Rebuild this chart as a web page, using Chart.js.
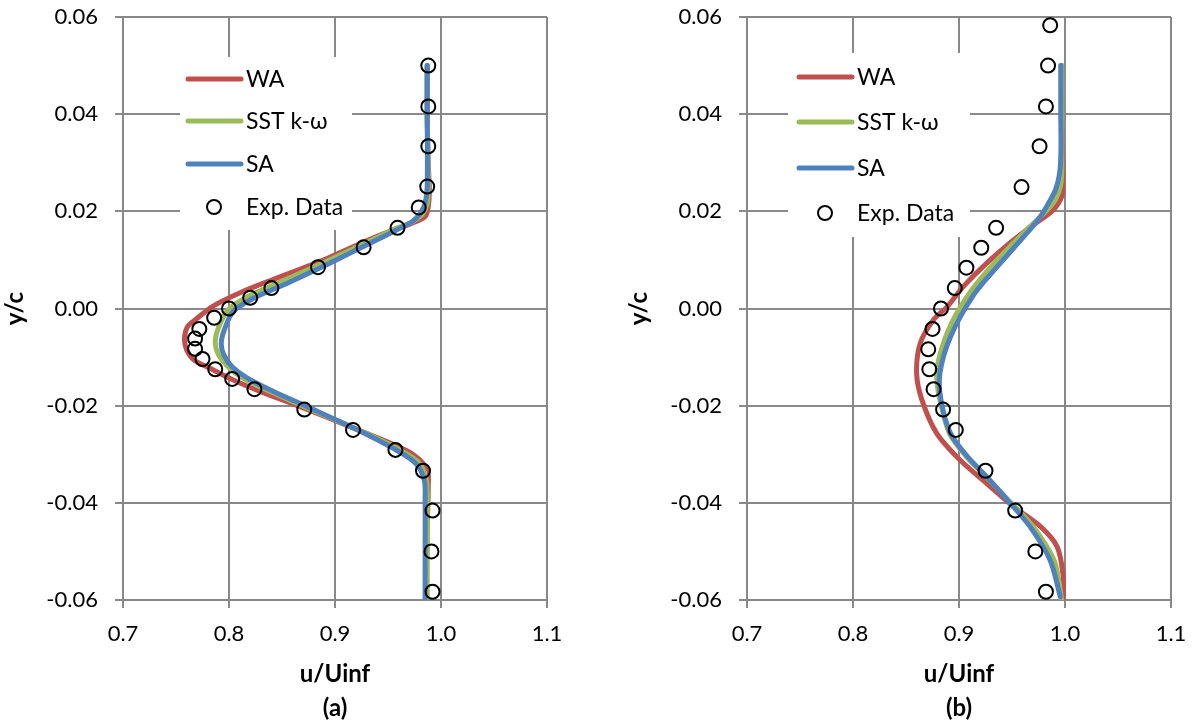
<!DOCTYPE html>
<html>
<head>
<meta charset="utf-8">
<script src="https://cdn.jsdelivr.net/npm/chart.js@4/dist/chart.umd.min.js"></script>
<style>
  body { margin: 0; background: #fff; }
  canvas { position: absolute; top: 0; }
  #chartA { left: 0; }
  #chartB { left: 624px; }
</style>
</head>
<body>
<canvas id="chartA" width="571" height="726"></canvas>
<canvas id="chartB" width="571" height="726"></canvas>
<script>
// ---- panel (a) ----
const uWA_a  = [0.987, 0.987, 0.988, 0.989, 0.988, 0.985, 0.971, 0.955, 0.927, 0.886, 0.842, 0.811, 0.785, 0.770, 0.761, 0.758, 0.760, 0.767, 0.782, 0.804, 0.830, 0.867, 0.914, 0.952, 0.974, 0.987, 0.988, 0.987, 0.986];
const yWA_a  = [0.050, 0.040, 0.030, 0.024, 0.021, 0.0189, 0.0174, 0.0162, 0.0137, 0.0097, 0.0060, 0.0033, 0.0005, -0.0020, -0.0037, -0.0061, -0.0085, -0.0106, -0.0123, -0.0147, -0.0171, -0.0202, -0.0243, -0.0277, -0.0301, -0.0332, -0.0367, -0.045, -0.060];
const uSST_a = [0.987, 0.987, 0.988, 0.987, 0.982, 0.972, 0.958, 0.926, 0.887, 0.849, 0.817, 0.799, 0.790, 0.787, 0.790, 0.799, 0.813, 0.839, 0.871, 0.917, 0.956, 0.978, 0.986, 0.987, 0.987, 0.987];
const ySST_a = [0.050, 0.040, 0.025, 0.0215, 0.0193, 0.0177, 0.0165, 0.0132, 0.0092, 0.0055, 0.0024, -0.0003, -0.0040, -0.0070, -0.0095, -0.0120, -0.0143, -0.0171, -0.0202, -0.0245, -0.0285, -0.0315, -0.0350, -0.040, -0.050, -0.060];
const uSA_a  = [0.987, 0.987, 0.987, 0.985, 0.9805, 0.973, 0.962, 0.930, 0.892, 0.855, 0.823, 0.804, 0.7956, 0.7927, 0.795, 0.803, 0.817, 0.842, 0.8736, 0.9176, 0.955, 0.9758, 0.9842, 0.985, 0.985, 0.985];
const ySA_a  = [0.050, 0.040, 0.0251, 0.0217, 0.0196, 0.0179, 0.0166, 0.0131, 0.0090, 0.0052, 0.0021, -0.0006, -0.0044, -0.0071, -0.0095, -0.0120, -0.0143, -0.0171, -0.0202, -0.0246, -0.0288, -0.0318, -0.0353, -0.0394, -0.050, -0.060];
const uExp_a = [0.988, 0.988, 0.988, 0.987, 0.979, 0.959, 0.927, 0.884, 0.840, 0.820, 0.800, 0.786, 0.772, 0.768, 0.768, 0.775, 0.787, 0.803, 0.824, 0.871, 0.917, 0.957, 0.983, 0.992, 0.991, 0.992];
const yExp_a = [0.050, 0.0416, 0.0334, 0.0251, 0.0208, 0.0166, 0.0126, 0.0085, 0.0042, 0.0022, 0.000, -0.0019, -0.0042, -0.0062, -0.0083, -0.0104, -0.0125, -0.0145, -0.0166, -0.0208, -0.025, -0.0291, -0.0334, -0.0416, -0.050, -0.0583];

// ---- panel (b) ----
const uWA_b  = [0.997, 0.997, 0.998, 0.998, 0.997, 0.989, 0.970, 0.9515, 0.926, 0.904, 0.889, 0.876, 0.8635, 0.860, 0.865, 0.879, 0.901, 0.926, 0.9515, 0.977, 0.9925, 0.998, 0.9985];
const yWA_b  = [0.050, 0.040, 0.030, 0.026, 0.0231, 0.0203, 0.0172, 0.0141, 0.0093, 0.0045, 0.0004, -0.0023, -0.0071, -0.0133, -0.0188, -0.0257, -0.0312, -0.036, -0.0408, -0.0449, -0.049, -0.0545, -0.060];
const uSST_b = [0.997, 0.997, 0.996, 0.991, 0.982, 0.962, 0.933, 0.911, 0.893, 0.882, 0.879, 0.882, 0.891, 0.907, 0.926, 0.949, 0.970, 0.990, 0.997];
const ySST_b = [0.050, 0.030, 0.0255, 0.0225, 0.020, 0.0158, 0.0093, 0.0035, -0.003, -0.0095, -0.0140, -0.0188, -0.0257, -0.0305, -0.0347, -0.040, -0.0449, -0.052, -0.060];
const uSA_b  = [0.996, 0.996, 0.9962, 0.995, 0.991, 0.9845, 0.9767, 0.964, 0.936, 0.9138, 0.892, 0.882, 0.883, 0.892, 0.908, 0.926, 0.948, 0.967, 0.986, 0.9955];
const ySA_b  = [0.050, 0.040, 0.0327, 0.0279, 0.0244, 0.0217, 0.0189, 0.0155, 0.0086, 0.0028, -0.0058, -0.0133, -0.0188, -0.0257, -0.0305, -0.0346, -0.040, -0.0449, -0.0518, -0.0593];
const uExp_b = [0.986, 0.984, 0.982, 0.976, 0.959, 0.935, 0.921, 0.907, 0.896, 0.883, 0.875, 0.871, 0.872, 0.876, 0.885, 0.897, 0.925, 0.953, 0.972, 0.982];
const yExp_b = [0.0583, 0.050, 0.0416, 0.0334, 0.025, 0.0166, 0.0125, 0.0084, 0.0042, 0.000, -0.0042, -0.0084, -0.0125, -0.0166, -0.0208, -0.025, -0.0334, -0.0416, -0.050, -0.0583];

const xTickMin = 0.7, xTickMax = 1.1, xTickStep = 0.1;
const yTickMin = -0.06, yTickMax = 0.06, yTickStep = 0.02;

Chart.defaults.font.family = 'Lato';
Chart.defaults.color = '#000';

const gridColor = '#898989';

function pts(u, y) {
    return u.map((v, i) => ({ x: v, y: y[i] }));
}

function lineSet(label, color, u, y, order) {
    return {
        label: label,
        data: pts(u, y),
        showLine: true,
        borderColor: color,
        backgroundColor: color,
        borderWidth: 5,
        pointRadius: 0,
        tension: 0.3,
        borderCapStyle: 'round',
        borderJoinStyle: 'round',
        order: order
    };
}

// legend drawn inside the plot, over the grid
const insideLegend = {
    id: 'insideLegend',
    beforeDatasetsDraw(chart, args, opts) {
        const ctx = chart.ctx;
        ctx.save();
        ctx.fillStyle = '#fff';
        ctx.fillRect(opts.box[0], opts.box[1], opts.box[2] - opts.box[0], opts.box[3] - opts.box[1]);
        ctx.font = '23px Lato';
        ctx.textBaseline = 'middle';
        ctx.textAlign = 'left';
        const sets = chart.data.datasets;
        sets.forEach((ds, i) => {
            const yy = opts.rows[i];
            if (ds.showLine) {
                ctx.strokeStyle = ds.borderColor;
                ctx.lineWidth = 5;
                ctx.lineCap = 'round';
                ctx.beginPath();
                ctx.moveTo(opts.lineX[0], yy);
                ctx.lineTo(opts.lineX[1], yy);
                ctx.stroke();
            } else {
                ctx.strokeStyle = '#000';
                ctx.lineWidth = 2;
                ctx.beginPath();
                ctx.arc(opts.markX, yy, 7, 0, Math.PI * 2);
                ctx.stroke();
            }
            ctx.fillStyle = '#000';
            ctx.fillText(ds.label, opts.textX, yy + 1);
        });
        ctx.restore();
    }
};

function makeChart(id, sets, caption, legendPos) {
    const ctx = document.getElementById(id).getContext('2d');
    return new Chart(ctx, {
        type: 'scatter',
        data: {
            datasets: [
                lineSet('WA', '#C0504D', sets.uWA, sets.yWA, 3),
                lineSet('SST k-\u03c9', '#9BBB59', sets.uSST, sets.ySST, 2),
                lineSet('SA', '#4F81BD', sets.uSA, sets.ySA, 1),
                {
                    label: 'Exp. Data',
                    data: pts(sets.uExp, sets.yExp),
                    showLine: false,
                    pointStyle: 'circle',
                    pointRadius: 7,
                    pointBorderWidth: 2,
                    borderColor: '#000',
                    backgroundColor: 'rgba(0,0,0,0)',
                    order: 0
                }
            ]
        },
        options: {
            responsive: false,
            animation: false,
            layout: { padding: { left: 0, right: 24, top: 17, bottom: 0 } },
            plugins: {
                legend: { display: false },
                tooltip: { enabled: false },
                insideLegend: legendPos
            },
            scales: {
                x: {
                    type: 'linear',
                    min: xTickMin,
                    max: xTickMax,
                    afterFit: (s) => { s.height = 126; s.paddingLeft = 0; s.paddingRight = 0; },
                    ticks: {
                        stepSize: xTickStep,
                        padding: 13,
                        font: { size: 22 },
                        callback: (v) => v.toFixed(1)
                    },
                    grid: { color: gridColor, lineWidth: 2, tickLength: 8 },
                    border: { color: gridColor, width: 2 },
                    title: {
                        display: true,
                        text: ['u/Uinf', caption],
                        font: { size: 24, weight: 'bold', lineHeight: 1.45 },
                        padding: { top: 0, bottom: 0 }
                    }
                },
                y: {
                    type: 'linear',
                    min: yTickMin,
                    max: yTickMax,
                    afterFit: (s) => { s.width = 123; s.paddingTop = 0; s.paddingBottom = 0; },
                    ticks: {
                        stepSize: yTickStep,
                        padding: 17,
                        font: { size: 22 },
                        callback: (v) => (Math.abs(v) < 1e-9 ? 0 : v).toFixed(2)
                    },
                    grid: { color: gridColor, lineWidth: 2, tickLength: 8 },
                    border: { color: gridColor, width: 2 },
                    title: {
                        display: true,
                        text: 'y/c',
                        font: { size: 24, weight: 'bold' },
                        padding: { top: 1, bottom: 0 }
                    }
                }
            }
        },
        plugins: [insideLegend]
    });
}

makeChart('chartA', {
    uWA: uWA_a, yWA: yWA_a, uSST: uSST_a, ySST: ySST_a,
    uSA: uSA_a, ySA: ySA_a, uExp: uExp_a, yExp: yExp_a
}, '(a)', { box: [180, 57, 352, 230], lineX: [188, 241], markX: 214, textX: 246, rows: [79, 121, 164, 207] });

makeChart('chartB', {
    uWA: uWA_b, yWA: yWA_b, uSST: uSST_b, ySST: ySST_b,
    uSA: uSA_b, ySA: ySA_b, uExp: uExp_b, yExp: yExp_b
}, '(b)', { box: [164, 53, 346, 237], lineX: [175, 228], markX: 201, textX: 233, rows: [77, 122, 168, 213] });
</script>
</body>
</html>
